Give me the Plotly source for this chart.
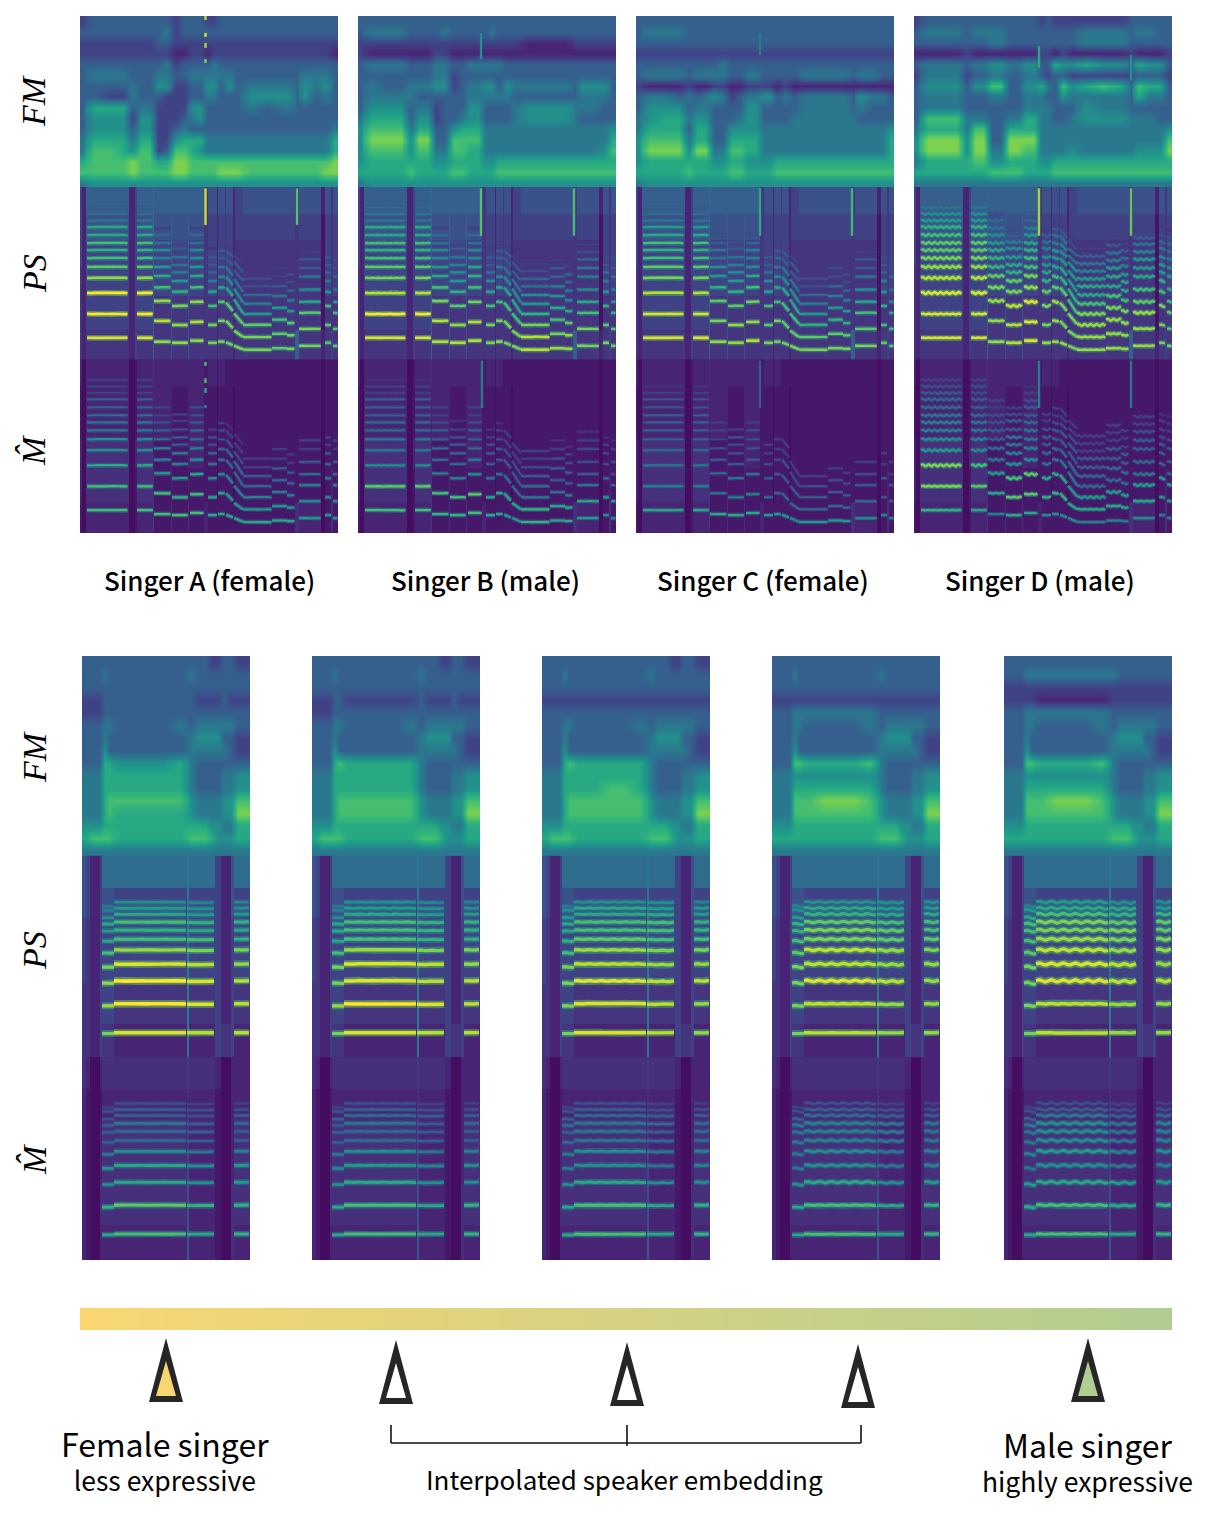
"""Mel spectrogram comparison figure: four singers, then an interpolated speaker embedding."""
from plotly.colors import sample_colorscale
import plotly.graph_objects as go

# --------------------------------------------------------------------------
# Labels
# --------------------------------------------------------------------------
SINGER_LABELS = ["Singer A (female)", "Singer B (male)", "Singer C (female)", "Singer D (male)"]
ROW_LABELS = ["FM", "PS", "M\u0302"]

# --------------------------------------------------------------------------
# Top row: time columns, notes and harmonic bins (80 mel bins per section)
# --------------------------------------------------------------------------
TOP_FM_EDGES = [0, 6, 22, 38, 48, 57, 65, 74, 82, 91, 100, 108, 116, 124, 131, 137, 145, 153, 163,
                180, 198, 215, 219, 230, 241, 251, 258]
TOP_BG_EDGES = [0, 2, 6, 49, 55, 57, 73, 74, 91, 92, 108, 109, 124, 128, 137, 138, 145, 146, 153,
                155, 163, 215, 219, 241, 245, 251, 253, 258]
BG_ROW_EDGES = [0, 14, 30, 44, 56, 68, 80]

TOP_T0 = [7, 57, 74, 92, 110, 128, 138, 146, 154, 163, 192, 207, 219, 245, 253]
TOP_T1 = [48, 73, 91, 108, 124, 137, 145, 153, 163, 192, 207, 215, 241, 251, 258]
TOP_BINS = [
    [10.6, 21.7, 31.4, 38.4, 43.5, 47.6, 51.3, 54.6, 58.3, 62, 65, 68, 71],
    [10.6, 21.7, 31.4, 38.4, 43.5, 47.6, 51.3, 54.6, 58.3, 62, 65, 68, 71],
    [8.8, 18.5, 27.7, 34, 39.3, 43.5, 47.6, 51.3, 54.6, 58.3, 61.5, 65, 68],
    [8.3, 16.6, 25.4, 32, 37, 41, 44.4, 48, 52, 55, 58, 61, 64.5],
    [9.3, 18, 27.3, 34, 39.3, 43.5, 47.6, 51.3, 54.6, 58.3, 61.5, 65, 68],
    [8.3, 16.6, 25.4, 32, 37, 41, 44.4, 48, 52, 55, 58, 61, 64.5],
    [8.8, 18.5, 27.3, 34, 39, 43.5, 47.6, 51, 54.5, 58, 61, 64.5, 68],
    [8.5, 18.5, 27, 34, 39, 43.5, 47.6, 51, 54.5, 58, 61, 64.5, 68],
    [7, 14, 22, 28.5, 33.5, 38, 42, 46, 49, 52.5, 56, 59.5, 63],
    [5.1, 11, 16.6, 21.7, 26.4, 30.5, 34.5, 38, 41.5, 45, 48.5, 52, 55.5],
    [5.8, 12.5, 19, 24.5, 30, 34.5, 39, 43, 46.5, 50, 53.5, 57, 60],
    [5.5, 11.8, 17.5, 23, 28, 32.5, 36.5, 40, 44, 47.5, 51, 54.5, 58],
    [6.9, 14.8, 22.2, 27.3, 33, 39, 43, 47, 50.5, 54, 57, 60.5, 64],
    [8.3, 16.6, 25.4, 32, 37, 41, 44.4, 48, 52, 55, 58, 61, 64.5],
    [6.9, 14.8, 22.2, 27.3, 33, 39, 43, 47, 50.5, 54, 57, 60.5, 64],
]
TOP_BINS_END = {
    7: [7.2, 15, 23, 30, 35, 39.5, 44, 48, 51, 54, 57, 60.5, 64],
    8: [5.2, 11, 17, 22, 27, 32, 37, 41, 45, 48.5, 51.5, 55, 58.5],
}

# Rows run top to bottom, digit / 10 is the level.
A_FM = [
    "2 333 3 33 33 23 33 22 3 3 3 333 3 33 3 3",
    "3 333 3 33 34 23 33 33 3 3 3 333 3 33 3 3",
    "2 222 2 22 33 22 22 22 2 2 2 222 2 22 2 2",
    "2 222 2 22 22 11 22 12 2 2 2 222 2 22 2 1",
    "3 333 3 33 34 23 33 34 3 3 3 333 3 33 3 3",
    "3 444 3 33 44 33 44 44 4 4 3 333 3 44 4 3",
    "3 333 4 33 55 22 33 55 3 5 3 444 3 54 5 3",
    "3 322 4 33 32 22 33 44 3 3 3 555 3 53 4 3",
    "3 666 3 44 22 22 55 33 3 3 3 434 3 33 3 3",
    "3 555 2 55 22 23 45 33 3 3 3 333 3 33 3 3",
    "3 555 3 55 22 34 33 33 3 3 3 333 3 33 3 4",
    "4 666 4 66 22 56 66 44 4 4 4 444 4 44 4 6",
    "4 776 5 77 23 77 65 44 4 4 4 444 4 44 4 6",
    "6 777 8 77 66 88 77 77 7 7 7 777 7 77 7 8",
    "7 777 8 77 77 88 77 77 8 8 8 777 7 77 8 8",
    "4 555 5 55 55 55 55 55 5 5 5 555 5 55 5 5",
]
B_FM = [
    "3 333 3 33 33 33 33 33 3 3 3 333 3 33 3 3",
    "3 444 3 33 34 33 33 34 3 3 3 333 3 33 3 3",
    "2 222 2 22 22 22 22 22 2 2 2 111 2 22 2 2",
    "2 111 1 11 22 11 11 11 1 1 1 111 1 11 1 1",
    "3 444 3 33 44 33 44 44 4 3 3 333 3 33 3 3",
    "3 333 3 33 44 23 33 33 3 3 3 333 3 33 3 3",
    "3 433 4 44 55 23 44 55 3 5 4 444 3 55 5 3",
    "3 444 4 33 33 33 44 44 4 4 3 333 3 44 4 3",
    "3 555 3 44 23 33 55 33 3 3 4 555 4 44 3 3",
    "4 666 3 55 23 34 55 33 3 3 4 555 4 33 3 3",
    "5 777 4 66 33 56 66 44 4 4 4 444 4 44 4 5",
    "5 888 5 88 33 77 77 44 4 4 4 444 4 44 4 6",
    "5 777 5 77 44 77 66 44 4 4 4 444 4 44 5 7",
    "5 666 6 66 55 66 66 55 6 6 6 666 6 66 6 6",
    "6 666 7 66 66 77 66 66 7 7 7 777 7 77 7 7",
    "4 555 5 55 55 55 55 55 5 5 5 555 5 55 5 5",
]
C_FM = [
    "3 333 3 33 33 33 33 33 3 3 3 333 3 33 3 3",
    "3 444 3 33 33 33 33 33 3 3 3 333 3 33 3 3",
    "3 333 3 33 33 33 33 33 3 3 3 333 3 33 3 3",
    "2 222 2 22 22 22 22 22 2 2 2 222 2 22 2 2",
    "3 333 3 33 34 33 33 33 3 3 3 333 3 33 3 3",
    "3 444 3 44 44 33 44 33 3 3 3 444 3 44 3 3",
    "2 111 2 11 22 11 22 22 1 2 1 111 1 11 1 1",
    "3 443 4 34 54 23 44 55 3 4 3 444 3 54 4 3",
    "3 555 3 44 33 33 55 33 3 3 3 444 3 43 3 3",
    "4 566 4 55 33 34 55 33 3 3 4 444 4 33 3 3",
    "4 666 3 66 33 55 55 44 4 4 4 444 4 44 4 5",
    "5 777 4 66 33 66 66 44 4 4 4 444 4 44 4 6",
    "5 888 5 88 44 77 66 44 4 4 4 444 4 44 4 6",
    "5 666 6 66 55 66 55 55 6 6 6 666 6 66 6 6",
    "6 666 7 66 66 77 66 66 7 7 7 777 7 77 7 7",
    "4 555 5 55 55 55 55 55 5 5 5 555 5 55 5 5",
]
D_FM = [
    "2 333 3 33 33 33 33 23 2 2 2 222 3 33 3 3",
    "3 444 3 44 44 33 33 33 3 3 3 444 3 44 3 3",
    "3 333 3 33 44 33 33 33 3 3 3 444 3 33 3 3",
    "1 111 2 11 11 11 11 22 1 2 1 111 2 11 1 2",
    "3 444 3 44 55 44 55 33 6 5 5 655 3 65 5 3",
    "2 444 2 33 44 33 44 32 3 3 2 222 2 33 3 2",
    "3 555 3 55 77 33 55 64 3 7 5 676 3 76 6 3",
    "3 444 3 33 44 33 44 43 3 5 4 444 3 64 4 3",
    "3 444 3 33 33 33 44 44 3 3 3 544 3 33 3 3",
    "3 777 4 44 33 44 66 44 3 3 4 555 4 44 3 3",
    "4 666 4 77 33 66 66 44 4 4 4 444 4 44 4 5",
    "5 888 5 88 33 88 88 44 4 4 4 444 4 44 4 7",
    "5 888 5 88 44 88 77 44 4 4 5 444 4 55 5 8",
    "4 666 6 77 55 66 66 55 6 6 6 666 6 66 6 6",
    "6 666 6 66 77 77 66 66 7 7 7 777 7 77 7 7",
    "4 444 4 44 44 44 44 44 4 4 4 444 4 44 4 4",
]

# Background between the harmonics, digit / 20 for PS and digit / 30 for the mel section.
TOP_PS_BG = [
    "4 2 6 2 4 6 7 6 6 6 6 6 3 5 2 5 3 5 2 4 5 3 5 2 5 3 5",
    "4 2 5 2 4 5 7 5 6 5 6 5 3 4 2 4 3 4 2 4 4 3 4 1 4 3 4",
    "4 2 4 2 4 4 6 4 6 4 6 4 3 4 2 4 3 4 2 3 3 3 3 1 4 3 4",
    "3 2 4 2 4 4 6 4 5 4 5 4 3 4 2 4 3 4 2 3 3 3 3 1 4 3 4",
    "3 2 4 2 4 4 6 3 5 3 5 3 3 3 2 3 3 3 2 3 3 3 3 1 3 3 3",
    "3 2 3 2 4 3 6 3 5 3 5 3 3 3 2 3 3 3 2 3 3 6 3 2 3 4 3",
]
TOP_MEL_BG = [
    "3 1 3 1 2 3 4 3 3 3 3 3 2 3 2 3 2 2 2 2 2 2 2 1 2 2 2",
    "2 1 3 1 2 3 3 3 3 2 3 3 2 2 1 2 2 2 1 2 2 2 2 1 2 2 2",
    "2 1 3 1 2 3 3 3 3 2 3 3 2 2 1 2 2 2 1 2 2 2 2 1 2 2 2",
    "3 1 4 1 3 4 3 2 3 2 3 3 2 2 1 2 2 2 1 2 2 2 2 1 2 2 2",
    "3 1 4 1 2 4 4 2 3 2 3 2 2 2 1 2 2 2 1 2 2 2 2 1 2 3 2",
    "2 1 3 1 2 3 5 2 4 2 4 2 3 2 2 2 2 2 2 2 2 4 3 1 2 4 2",
]

A_PS_HARM = [0.95, 1.0, 0.98, 0.85, 0.75, 0.7, 0.65, 0.7, 0.6, 0.6, 0.42, 0.36, 0.32]
B_PS_HARM = [0.97, 0.98, 0.9, 0.82, 0.75, 0.72, 0.66, 0.68, 0.6, 0.58, 0.42, 0.38, 0.34]
C_PS_HARM = [0.95, 0.95, 0.9, 0.82, 0.75, 0.7, 0.66, 0.68, 0.6, 0.56, 0.42, 0.36, 0.32]
D_PS_HARM = [0.95, 0.96, 0.97, 0.92, 0.85, 0.78, 0.76, 0.74, 0.68, 0.64, 0.55, 0.48, 0.42]
A_PS_NOTE = [1, 1, 0.9, 0.88, 0.92, 0.82, 0.85, 0.85, 0.85, 0.85, 0.8, 0.85, 0.85, 0.8, 0.78]
B_PS_NOTE = [1, 1, 0.92, 0.92, 0.95, 0.85, 0.88, 0.85, 0.85, 0.95, 0.88, 0.9, 0.85, 0.8, 0.8]
C_PS_NOTE = [1, 1, 0.9, 0.92, 0.95, 0.85, 0.86, 0.85, 0.85, 0.85, 0.85, 0.85, 0.85, 0.8, 0.78]
D_PS_NOTE = [1, 1, 0.92, 0.95, 0.98, 0.88, 0.9, 0.88, 0.85, 0.92, 0.92, 0.92, 0.9, 0.85, 0.82]
A_PS_FADE = [0, 0, 0.02, 0.03, 0.02, 0.04, 0.04, 0.04, 0.04, 0.05, 0.05, 0.05, 0.04, 0.04, 0.04]
B_PS_FADE = [0, 0, 0.02, 0.03, 0.02, 0.04, 0.04, 0.04, 0.04, 0.04, 0.04, 0.04, 0.03, 0.04, 0.04]
C_PS_FADE = [0, 0, 0.03, 0.03, 0.03, 0.04, 0.04, 0.04, 0.04, 0.05, 0.05, 0.05, 0.04, 0.04, 0.04]
D_PS_FADE = [0, 0, 0.01, 0.02, 0.01, 0.02, 0.02, 0.02, 0.02, 0.02, 0.02, 0.02, 0.02, 0.02, 0.02]

A_MEL_HARM = [0.72, 0.72, 0.62, 0.52, 0.5, 0.4, 0.38, 0.34, 0.3, 0.3, 0.22, 0.2, 0.18]
B_MEL_HARM = [0.7, 0.75, 0.5, 0.42, 0.4, 0.36, 0.35, 0.32, 0.28, 0.28, 0.2, 0.18, 0.16]
C_MEL_HARM = [0.62, 0.44, 0.42, 0.36, 0.32, 0.3, 0.3, 0.28, 0.25, 0.25, 0.18, 0.16, 0.15]
D_MEL_HARM = [0.65, 0.82, 0.78, 0.55, 0.5, 0.45, 0.45, 0.38, 0.36, 0.35, 0.3, 0.26, 0.22]
A_MEL_NOTE = [1, 1, 0.95, 0.95, 1, 0.85, 0.85, 0.8, 0.8, 0.8, 0.8, 0.8, 0.75, 0.75, 0.75]
B_MEL_NOTE = [1, 1, 0.95, 0.95, 1, 0.85, 0.85, 0.8, 0.8, 0.9, 0.85, 0.85, 0.8, 0.75, 0.75]
C_MEL_NOTE = [1, 1, 0.95, 1, 1, 0.85, 0.85, 0.85, 0.8, 0.85, 0.85, 0.85, 0.8, 0.75, 0.75]
D_MEL_NOTE = [1, 0.9, 0.72, 0.95, 0.95, 0.8, 0.8, 0.8, 0.75, 0.72, 0.72, 0.72, 0.75, 0.7, 0.7]

TOP_WOBBLE = [0.12, 0.15, 0.12, 0.45]

# Thin vertical spikes: frame, first bin, last bin, level (bins 0-240 run through all sections).
A_SPIKES = [(125.5, 143, 160, 0.92), (217, 143, 160, 0.72), (125.5, 238.2, 240, 0.9),
            (125.5, 230.3, 232.1, 0.95), (125.5, 225.2, 227.5, 0.85), (125.5, 218.2, 220, 0.8),
            (125.5, 77.6, 79.4, 0.7), (125.5, 69.6, 71.9, 0.7), (125.5, 65, 67.3, 0.6),
            (125.5, 58, 59.4, 0.5)]
B_SPIKES = [(123, 138, 160, 0.72), (216, 138, 160, 0.7), (123, 220, 232, 0.5), (124, 58, 80, 0.4)]
C_SPIKES = [(124, 138, 160, 0.6), (216, 138, 160, 0.68), (124, 222, 232, 0.42), (124, 58, 80, 0.28)]
D_SPIKES = [(125, 138, 160, 0.85), (217, 138, 160, 0.76), (125, 216, 226, 0.6), (217, 210, 222, 0.5),
            (125, 58, 80, 0.42), (217, 58, 80, 0.38)]

# --------------------------------------------------------------------------
# Bottom row: one short phrase, five interpolation steps
# --------------------------------------------------------------------------
BOT_FM_EDGES = [0, 7, 14, 20, 25, 30, 45, 60, 75, 90, 105, 113, 120, 127, 133, 139, 145, 152, 160, 168]
BOT_BG_EDGES = [0, 4, 8, 18, 20, 32, 105, 107, 133, 139, 149, 152, 168]

BOT_T0 = [20, 32, 105, 152]
BOT_T1 = [32, 105, 133, 168]
BOT_BINS = [
    [10, 21, 30, 36.4, 42, 46.7, 50.7, 53.5, 56, 59, 60.6],
    [10.3, 21.8, 30.9, 37.6, 43.2, 47.5, 51.1, 54.3, 57.4, 59.8, 62.2],
    [10.3, 21.6, 30.7, 37.4, 43, 47.3, 50.9, 54.1, 57.2, 59.6, 62],
    [10.3, 21.8, 30.9, 37.6, 43.2, 47.5, 51.1, 54.3, 57.4, 59.8, 62.2],
]

P0_FM = [
    "333 33 33333 3 3322 33 22",
    "333 43 33333 4 3333 33 33",
    "333 33 33333 3 3333 33 33",
    "222 33 33333 3 2222 32 22",
    "222 33 33333 3 3333 33 33",
    "333 44 33334 3 4444 44 33",
    "333 43 33333 4 5555 33 22",
    "333 53 33333 4 4444 43 22",
    "333 66 55556 4 3333 33 33",
    "444 66 66666 4 3333 44 55",
    "444 66 66666 4 3333 44 55",
    "444 67 77777 5 4444 55 77",
    "444 67 66666 5 4444 55 88",
    "555 66 66666 6 6655 44 66",
    "677 77 66666 7 7765 55 66",
    "444 44 44444 4 4444 44 44",
]
P1_FM = [
    "333 33 33333 3 3322 33 22",
    "333 43 33333 4 3333 33 33",
    "333 33 33333 3 3333 33 33",
    "222 33 22222 3 2222 32 22",
    "222 33 33333 3 3333 33 33",
    "333 44 33334 3 4444 44 33",
    "333 43 33333 4 5555 33 22",
    "333 53 33333 4 4444 43 22",
    "333 67 66666 4 3333 33 33",
    "444 66 66666 4 3333 44 55",
    "444 66 66666 4 3333 44 55",
    "444 67 77777 5 4444 55 77",
    "444 67 77777 5 4444 55 88",
    "555 66 66666 6 6655 44 66",
    "677 77 66666 7 7765 55 66",
    "444 44 44444 4 4444 44 44",
]
P2_FM = [
    "333 33 33333 3 3322 33 22",
    "333 43 33333 4 3333 33 33",
    "333 33 33333 3 3333 33 33",
    "222 22 22222 2 2222 22 22",
    "333 33 33333 3 3333 33 33",
    "333 44 33334 3 4444 44 33",
    "333 43 33333 4 5555 33 22",
    "333 53 33333 4 4444 43 22",
    "333 67 66666 4 3333 33 33",
    "444 66 66666 4 3333 44 55",
    "444 66 66776 4 3333 44 55",
    "444 67 77777 5 4444 55 77",
    "444 67 77777 5 4444 55 88",
    "555 66 66666 6 6655 44 66",
    "677 77 66666 7 7765 55 66",
    "444 44 44444 4 4444 44 44",
]
P3_FM = [
    "333 33 33333 3 3333 33 33",
    "333 43 33333 4 3333 33 33",
    "333 33 33333 3 3333 33 33",
    "222 22 22222 2 2222 22 22",
    "333 44 44444 3 3333 33 33",
    "333 44 33334 3 4444 44 33",
    "333 43 33333 4 5555 33 22",
    "333 53 33333 4 4444 43 22",
    "333 77 66667 4 3333 33 33",
    "444 55 55555 4 3333 44 55",
    "444 66 66666 4 3333 44 55",
    "444 77 78887 5 4444 55 77",
    "444 77 77777 5 4444 55 88",
    "555 66 66666 6 6655 44 66",
    "666 66 66666 7 7765 55 66",
    "444 44 44444 4 4444 44 44",
]
P4_FM = [
    "333 33 33333 3 3333 33 33",
    "333 44 44444 4 3333 33 33",
    "222 22 22222 2 2222 22 22",
    "222 22 11111 2 2222 22 22",
    "333 44 44444 3 3333 33 33",
    "333 44 33334 3 4444 44 33",
    "333 43 33333 4 5555 33 22",
    "333 53 33333 4 4444 43 22",
    "333 77 66667 4 3333 33 33",
    "444 55 55555 4 3333 44 55",
    "444 66 66666 4 3333 44 55",
    "444 77 78887 5 4444 55 77",
    "444 77 77777 5 4444 55 88",
    "555 66 66666 6 6655 44 66",
    "666 66 66666 7 7765 55 66",
    "444 44 44444 4 4444 44 44",
]

BOT_PS_BG = ["5 4 2 4 7 7 8 7 4 2 5 7", "5 4 2 4 5 4 8 4 4 2 5 4", "4 3 2 4 4 4 8 4 4 2 4 4",
             "4 3 2 4 4 4 8 4 4 2 4 4", "3 3 2 4 4 3 8 3 4 2 4 3", "3 3 2 4 3 2 8 2 4 3 4 2"]
BOT_MEL_BG = ["4 3 1 3 4 4 5 4 3 1 3 3", "3 2 1 2 3 3 4 3 2 1 3 3", "3 2 1 3 4 4 5 3 2 1 3 4",
              "3 2 1 3 4 4 6 3 2 1 3 4", "3 2 1 4 4 4 7 3 2 1 4 4", "3 2 1 3 3 3 8 3 2 1 4 3"]

P0_PS_HARM = [0.97, 1.0, 0.98, 0.95, 0.85, 0.72, 0.65, 0.7, 0.6, 0.55, 0.48]
P1_PS_HARM = [0.96, 1.0, 0.97, 0.95, 0.85, 0.7, 0.68, 0.68, 0.6, 0.55, 0.48]
P2_PS_HARM = [0.95, 0.95, 0.97, 0.92, 0.85, 0.75, 0.72, 0.72, 0.62, 0.58, 0.5]
P3_PS_HARM = [0.92, 0.92, 0.95, 0.92, 0.88, 0.8, 0.78, 0.75, 0.65, 0.6, 0.52]
P4_PS_HARM = [0.92, 0.92, 0.97, 0.95, 0.9, 0.85, 0.82, 0.8, 0.7, 0.62, 0.55]
P0_MEL_HARM = [0.72, 0.74, 0.6, 0.6, 0.5, 0.35, 0.33, 0.38, 0.32, 0.28, 0.25]
P1_MEL_HARM = [0.7, 0.72, 0.58, 0.55, 0.48, 0.35, 0.35, 0.38, 0.33, 0.28, 0.25]
P2_MEL_HARM = [0.7, 0.72, 0.58, 0.5, 0.5, 0.4, 0.38, 0.4, 0.33, 0.3, 0.25]
P3_MEL_HARM = [0.7, 0.72, 0.6, 0.5, 0.5, 0.45, 0.45, 0.45, 0.35, 0.3, 0.25]
P4_MEL_HARM = [0.7, 0.72, 0.62, 0.5, 0.55, 0.48, 0.48, 0.5, 0.38, 0.3, 0.25]
BOT_PS_NOTE = [0.85, 1.0, 0.95, 0.92]
BOT_MEL_NOTE = [0.85, 1.0, 0.85, 0.9]
BOT_WOBBLE = [0.08, 0.12, 0.2, 0.3, 0.4]

# Vibrato cycle and how strongly each harmonic follows it.
WOBBLE_CYCLE = [0, 0.7, 1, 0.7, 0, -0.7, -1, -0.7]
WOBBLE_BY_HARM = [0.3, 0.6, 1, 1, 1, 1, 1, 1, 1, 1, 1, 1, 1]

# Embedding bar and the five pointers below it.
BAR_VALUES = [[0, 1], [0, 1]]
BAR_COLORS = ["#fad673", "#b0cd92"]
POINTER_FILLS = ["#fad673", "#ffffff", "#ffffff", "#ffffff", "#b0cd92"]
POINTER_CENTERS = [166, 396, 627, 858, 1088]
POINTER_TIPS = [1338, 1340, 1342, 1344, 1338]

W, H = 1210, 1514
TOP_PANELS_X = [80, 358, 636, 914]
BOT_PANELS_X = [82, 312, 542, 772, 1004]
FM_ROW_EDGES = [160 + 5 * i for i in range(17)]


def digits(rows, scale):
    rows = [r.replace(" ", "") for r in rows]
    return [[int(c) / scale for c in r] for r in reversed(rows)]


def color(level):
    return sample_colorscale("Viridis", [min(max(level, 0.0), 1.0)])[0]


def harmonic_lines(t0s, t1s, bins, bins_end, harm, note, fade, wobble, step, offset):
    """Group every harmonic of every note by colour level."""
    groups = {}
    for n, (t0, t1) in enumerate(zip(t0s, t1s)):
        for h, b in enumerate(bins[n]):
            level = harm[h] * note[n] - fade[n] * h
            if level < 0.16:
                continue
            key = round(level * 20) / 20
            xs, ys = groups.setdefault(key, ([], []))
            end = bins_end.get(n, bins[n])[h]
            if end != b or wobble == 0:
                xs += [t0, t1, None]
                ys += [b + offset, end + offset, None]
                continue
            t, i = t0, 0
            while t <= t1:
                xs.append(t)
                ys.append(b + offset + wobble * WOBBLE_BY_HARM[h] * WOBBLE_CYCLE[i % 8])
                t += step
                i += 1
            xs.append(None)
            ys.append(None)
    return groups


fig = go.Figure()
layout_axes = {}
axis_no = 0


def add_axes(x_px, w_px, y_px, h_px, xrange, yrange):
    global axis_no
    axis_no += 1
    s = "" if axis_no == 1 else str(axis_no)
    layout_axes["xaxis" + s] = dict(domain=[x_px / W, (x_px + w_px) / W], range=xrange, visible=False,
                                    anchor="y" + s, fixedrange=True)
    layout_axes["yaxis" + s] = dict(domain=[1 - (y_px + h_px) / H, 1 - y_px / H], range=yrange, visible=False,
                                    anchor="x" + s, fixedrange=True)
    return "x" + s, "y" + s


def add_panel(x_px, w_px, y_px, h_px, fm_edges, fm_rows, bg_edges, ps_bg, mel_bg, lines_ps, lines_mel, spikes,
              core_w, glow_w):
    xa, ya = add_axes(x_px, w_px, y_px, h_px, [0, w_px], [0, 240])
    fig.add_trace(go.Heatmap(x=fm_edges, y=FM_ROW_EDGES, z=digits(fm_rows, 10), zsmooth="best",
                             colorscale="Viridis", zmin=0, zmax=1, showscale=False, hoverinfo="skip",
                             xaxis=xa, yaxis=ya))
    # section tops overlap the next section a little so no seam shows
    ps_rows = [b + 80 for b in BG_ROW_EDGES[:-1]] + [160.6]
    mel_rows = BG_ROW_EDGES[:-1] + [80.6]
    fig.add_trace(go.Heatmap(x=bg_edges, y=ps_rows, z=digits(ps_bg, 20),
                             colorscale="Viridis", zmin=0, zmax=1, showscale=False, hoverinfo="skip",
                             xaxis=xa, yaxis=ya))
    fig.add_trace(go.Heatmap(x=bg_edges, y=mel_rows, z=digits(mel_bg, 30),
                             colorscale="Viridis", zmin=0, zmax=1, showscale=False, hoverinfo="skip",
                             xaxis=xa, yaxis=ya))
    for groups in (lines_ps, lines_mel):
        for key in sorted(groups):
            xs, ys = groups[key]
            fig.add_trace(go.Scatter(x=xs, y=ys, mode="lines", opacity=0.5, hoverinfo="skip",
                                     line=dict(color=color(key * 0.8), width=glow_w * (0.6 + 0.6 * key)),
                                     showlegend=False, xaxis=xa, yaxis=ya))
        for key in sorted(groups):
            xs, ys = groups[key]
            fig.add_trace(go.Scatter(x=xs, y=ys, mode="lines", hoverinfo="skip",
                                     line=dict(color=color(key), width=core_w * (0.6 + 0.6 * key)),
                                     showlegend=False, xaxis=xa, yaxis=ya))
    for t, b0, b1, level in spikes:
        fig.add_trace(go.Scatter(x=[t, t], y=[b0, b1], mode="lines", hoverinfo="skip",
                                 line=dict(color=color(level), width=2.4),
                                 showlegend=False, xaxis=xa, yaxis=ya))


NO_FADE = [0, 0, 0, 0]
TOP_SETS = [
    (A_FM, A_PS_HARM, A_PS_NOTE, A_PS_FADE, A_MEL_HARM, A_MEL_NOTE, A_SPIKES),
    (B_FM, B_PS_HARM, B_PS_NOTE, B_PS_FADE, B_MEL_HARM, B_MEL_NOTE, B_SPIKES),
    (C_FM, C_PS_HARM, C_PS_NOTE, C_PS_FADE, C_MEL_HARM, C_MEL_NOTE, C_SPIKES),
    (D_FM, D_PS_HARM, D_PS_NOTE, D_PS_FADE, D_MEL_HARM, D_MEL_NOTE, D_SPIKES),
]
for x_px, wob, (fm, ps_h, ps_n, ps_f, mel_h, mel_n, spikes) in zip(TOP_PANELS_X, TOP_WOBBLE, TOP_SETS):
    lines_ps = harmonic_lines(TOP_T0, TOP_T1, TOP_BINS, TOP_BINS_END, ps_h, ps_n, ps_f, wob, 0.75, 80)
    mel_fade = [f * 0.4 for f in ps_f]
    lines_mel = harmonic_lines(TOP_T0, TOP_T1, TOP_BINS, TOP_BINS_END, mel_h, mel_n, mel_fade, wob, 0.75, 0)
    add_panel(x_px, 258, 16, 517, TOP_FM_EDGES, fm, TOP_BG_EDGES, TOP_PS_BG, TOP_MEL_BG,
              lines_ps, lines_mel, spikes, 2.2, 4.8)

BOT_SETS = [
    (P0_FM, P0_PS_HARM, P0_MEL_HARM),
    (P1_FM, P1_PS_HARM, P1_MEL_HARM),
    (P2_FM, P2_PS_HARM, P2_MEL_HARM),
    (P3_FM, P3_PS_HARM, P3_MEL_HARM),
    (P4_FM, P4_PS_HARM, P4_MEL_HARM),
]
for x_px, wob, (fm, ps_h, mel_h) in zip(BOT_PANELS_X, BOT_WOBBLE, BOT_SETS):
    lines_ps = harmonic_lines(BOT_T0, BOT_T1, BOT_BINS, {}, ps_h, BOT_PS_NOTE, NO_FADE, wob, 1.5, 80)
    lines_mel = harmonic_lines(BOT_T0, BOT_T1, BOT_BINS, {}, mel_h, BOT_MEL_NOTE, NO_FADE, wob, 1.5, 0)
    add_panel(x_px, 168, 656, 604, BOT_FM_EDGES, fm, BOT_BG_EDGES, BOT_PS_BG, BOT_MEL_BG,
              lines_ps, lines_mel, [], 3.0, 6.4)

# gradient bar
xa, ya = add_axes(80, 1092, 1308, 22, [0, 1], [0, 1])
fig.add_trace(go.Heatmap(x=[0, 1], y=[0, 1], z=BAR_VALUES, zsmooth="best", showscale=False, hoverinfo="skip",
                         colorscale=[[0, BAR_COLORS[0]], [1, BAR_COLORS[1]]], xaxis=xa, yaxis=ya))


def px(x):
    return x / W


def py(y):
    return 1 - y / H


def tri_path(cx, half, tip, base):
    return (f"M {px(cx)} {py(tip)} L {px(cx + half)} {py(base)} L {px(cx - half)} {py(base)} Z")


shapes = []
for cx, tip, fill in zip(POINTER_CENTERS, POINTER_TIPS, POINTER_FILLS):
    shapes.append(dict(type="path", xref="paper", yref="paper", path=tri_path(cx, 17, tip, tip + 64),
                       fillcolor="#262626", line_width=0))
    shapes.append(dict(type="path", xref="paper", yref="paper", path=tri_path(cx, 10, tip + 23, tip + 58),
                       fillcolor=fill, line_width=0))

for x0, y0, x1, y1 in [(391, 1425, 391, 1443), (391, 1443, 861, 1443), (861, 1425, 861, 1443), (627, 1425, 627, 1446)]:
    shapes.append(dict(type="line", xref="paper", yref="paper", x0=px(x0), y0=py(y0), x1=px(x1), y1=py(y1),
                       line=dict(color="#111111", width=1.6)))

annotations = []


def label(text, x, y, size, family="Noto Sans CJK KR", weight=None, italic=False, angle=0):
    font = dict(family=family, size=size, color="#000000")
    if weight:
        font["weight"] = weight
    if italic:
        font["style"] = "italic"
    annotations.append(dict(text=text, x=px(x), y=py(y), xref="paper", yref="paper", showarrow=False,
                            xanchor="center", yanchor="middle", textangle=angle, font=font))


for text, x in zip(SINGER_LABELS, [209, 486, 763, 1040]):
    label(text, x, 579, 26, weight=500)
for text, y in zip(ROW_LABELS, [101, 274, 451]):
    label(text, 34, y, 34, family="Liberation Serif", italic=True, angle=-90)
for text, y in zip(ROW_LABELS, [757, 951, 1160]):
    label(text, 34, y, 34, family="Liberation Serif", italic=True, angle=-90)
# two-line labels stay one text so the big first line and small second line sit close
label('<span style="font-size:32px">Female singer</span><br>less expressive', 165, 1459, 26.5)
label("Interpolated speaker embedding", 625, 1478, 26)
label('<span style="font-size:32px">Male singer</span><br>highly expressive', 1087.5, 1460, 26.5)

fig.update_layout(width=W, height=H, margin=dict(l=0, r=0, t=0, b=0), paper_bgcolor="white", plot_bgcolor="white",
                  showlegend=False, shapes=shapes, annotations=annotations, **layout_axes)
fig.write_html("out.html", post_script="document.body.style.margin='0'", config={"displayModeBar": False})
